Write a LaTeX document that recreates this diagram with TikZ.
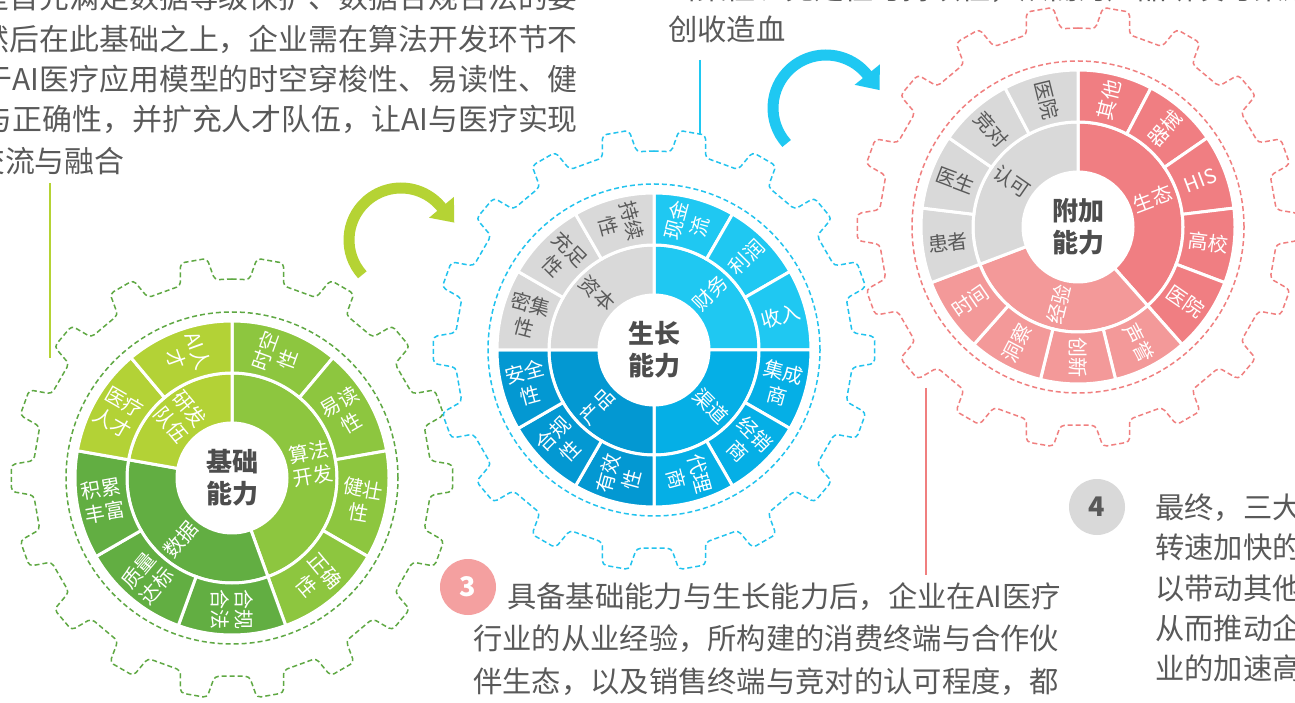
\documentclass[tikz,border=0pt]{standalone}
\usepackage{fontspec}
\setmainfont{Noto Sans CJK SC}
\usetikzlibrary{arrows.meta}

\definecolor{inktext}{HTML}{595959}
\definecolor{hubgray}{HTML}{4D4D4D}
\definecolor{grayc}{HTML}{D9D9D9}
\definecolor{gAlg}{HTML}{8DC63F}
\definecolor{gData}{HTML}{62AE42}
\definecolor{gTeam}{HTML}{B3D236}
\definecolor{gRim}{HTML}{5FA843}
\definecolor{bFin}{HTML}{1FC8F2}
\definecolor{bChan}{HTML}{05AFE6}
\definecolor{bProd}{HTML}{0398D2}
\definecolor{bRim}{HTML}{22C3EE}
\definecolor{rEco}{HTML}{F07E82}
\definecolor{rExp}{HTML}{F39999}
\definecolor{rRim}{HTML}{F07F7F}
\definecolor{dotpink}{HTML}{F4A0A0}
\definecolor{pinGreen}{HTML}{B5D334}

\tikzset{
  gearline/.style={dash pattern=on 5pt off 3pt, line width=1.5pt, rounded corners=4pt},
  seglabel/.style={align=center, inner sep=0pt, font=\fontsize{20}{24}\selectfont},
  hubtext/.style={align=center, inner sep=0pt, text=hubgray, font=\bfseries\fontsize{26}{32}\selectfont},
  bodytext/.style={text=inktext, inner sep=0pt, font=\fontsize{29.3}{40}\selectfont},
  widetext/.style={bodytext, font=\fontsize{29.9}{40}\selectfont},
  turnarrow/.style={line width=11pt, -{Triangle[length=20pt,width=31pt]}},
  pinline/.style={line width=2pt},
  numdot/.style={circle, minimum size=56pt, inner sep=0pt, font=\bfseries\fontsize{27}{27}\selectfont},
}

\newcounter{segno}
% one wedge of a ring: r1, r2, from, to, fill, text colour, label
\newcommand{\ringseg}[7]{%
  \stepcounter{segno}%
  \pgfmathsetmacro\segmid{((#3)+(#4))/2}%
  \pgfmathsetmacro\segrot{ifthenelse(cos(\segmid)<-0.001,\segmid-180,\segmid)}%
  \pgfmathsetmacro\segrad{((#1)+(#2))/2}%
  \fill[#5, draw=white, line width=3pt] ({#3}:#1) arc[start angle={#3}, end angle={#4}, radius=#1]
    -- ({#4}:#2) arc[start angle={#4}, end angle={#3}, radius=#2] -- cycle;
  \node[seglabel, text=#6, rotate=\segrot] (seg\arabic{segno}) at (\segmid:\segrad) {#7};
}
% dashed gear outline and its inner circle
\newcommand{\gearrim}[1]{%
  \draw[gearline, #1] (90:199) \foreach \k in {0,...,17}{
    -- ({95+20*\k}:199) -- ({96.5+20*\k}:221) -- ({103.5+20*\k}:221) -- ({105+20*\k}:199)} -- (90:199);
  \draw[gearline, #1] (0,0) circle[radius=166];
}

\begin{document}
\begin{tikzpicture}[x=1pt, y=1pt]
  \useasboundingbox (0,0) rectangle (1295,702);
  \fill[white] (0,0) rectangle (1295,702);
  \clip (0,0) rectangle (1295,702);

  % basic ability
  \begin{scope}[shift={(232,224)}]
    \gearrim{gRim}
    \foreach \a/\b/\c/\l in {90/-70/gAlg/{算法\\开发}, -70/-190/gData/数据, 170/90/gTeam/{研发\\队伍}}
      {\ringseg{55}{105}{\a}{\b}{\c}{white}{\l}}
    \foreach \a/\b/\c/\l in {90/50/gAlg/{时空\\性}, 50/10/gAlg/{易读\\性}, 10/-30/gAlg/{健壮\\性},
        -30/-70/gAlg/{正确\\性}, -70/-110/gData/{合规\\合法}, -110/-150/gData/{质量\\达标},
        -150/-190/gData/{积累\\丰富}, 170/130/gTeam/{医疗\\人才}, 130/90/gTeam/{AI人\\才}}
      {\ringseg{105}{157}{\a}{\b}{\c}{white}{\l}}
    \node[hubtext] (hubA) at (0,0) {基础\\能力};
  \end{scope}

  % growth ability
  \begin{scope}[shift={(654,352)}]
    \gearrim{bRim}
    \foreach \a/\b/\c/\t/\l in {90/0/bFin/white/财务, 0/-90/bChan/white/渠道,
        -90/-180/bProd/white/产品, 180/90/grayc/inktext/资本}
      {\ringseg{55}{105}{\a}{\b}{\c}{\t}{\l}}
    \foreach \a/\b/\c/\t/\l in {90/60/bFin/white/{现金\\流}, 60/30/bFin/white/利润, 30/0/bFin/white/收入,
        0/-30/bChan/white/{集成\\商}, -30/-60/bChan/white/{经销\\商}, -60/-90/bChan/white/{代理\\商},
        -90/-120/bProd/white/{有效\\性}, -120/-150/bProd/white/{合规\\性}, -150/-180/bProd/white/{安全\\性},
        180/150/grayc/inktext/{密集\\性}, 150/120/grayc/inktext/{充足\\性}, 120/90/grayc/inktext/{持续\\性}}
      {\ringseg{105}{157}{\a}{\b}{\c}{\t}{\l}}
    \node[hubtext] (hubB) at (0,0) {生长\\能力};
  \end{scope}

  % extra ability
  \begin{scope}[shift={(1078,475)}]
    \gearrim{rRim}
    \foreach \a/\b/\c/\t/\l in {0/5/rEco/white/生态, 5/9/rExp/white/经验, 9/13/grayc/inktext/认可}
      {\ringseg{55}{105}{90-\a*360/13}{90-\b*360/13}{\c}{\t}{\l}}
    \foreach \k/\c/\t/\l in {0/rEco/white/其他, 1/rEco/white/器械, 2/rEco/white/HIS, 3/rEco/white/高校,
        4/rEco/white/医院, 5/rExp/white/声誉, 6/rExp/white/创新, 7/rExp/white/洞察, 8/rExp/white/时间,
        9/grayc/inktext/患者, 10/grayc/inktext/医生, 11/grayc/inktext/竞对, 12/grayc/inktext/医院}
      {\ringseg{105}{157}{90-\k*360/13}{90-(\k+1)*360/13}{\c}{\t}{\l}}
    \node[hubtext] (hubC) at (0,0) {附加\\能力};
  \end{scope}

  % turning arrows
  \coordinate (turnA) at (401,462);
  \coordinate (turnB) at (826,594);
  \draw[turnarrow, pinGreen] (turnA) ++(222:52) arc[start angle=222, end angle=40, radius=52] -- ++(-50:21);
  \draw[turnarrow, bFin] (turnB) ++(222:53) arc[start angle=222, end angle=39, radius=53] -- ++(-51:20);

  % texts
  \node[widetext, anchor=base east] (noteA1) at (578,693) {是首先满足数据等级保护、数据合规合法的要};
  \node[widetext, anchor=base east] (noteA2) at (578,651) {然后在此基础之上，企业需在算法开发环节不};
  \node[widetext, anchor=base east] (noteA3) at (578,611) {于AI医疗应用模型的时空穿梭性、易读性、健};
  \node[widetext, anchor=base east] (noteA4) at (578,571) {与正确性，并扩充人才队伍，让AI与医疗实现};
  \node[widetext, anchor=base west] (noteA5) at (-25,529) {交流与融合};

  \node[bodytext, anchor=base west] (noteB1) at (668,702) {密集性、充足性与持续性，从而为产品研发与渠道};
  \node[bodytext, anchor=base west] (noteB2) at (668,661) {创收造血};

  \node[numdot, fill=dotpink, text=white] (num3) at (468,115) {3};
  \node[bodytext, anchor=base west] (noteC1) at (507,95) {具备基础能力与生长能力后，企业在AI医疗};
  \node[bodytext, anchor=base west] (noteC2) at (473,53) {行业的从业经验，所构建的消费终端与合作伙};
  \node[bodytext, anchor=base west] (noteC3) at (473,10) {伴生态，以及销售终端与竞对的认可程度，都};

  \node[numdot, fill=grayc, text=inktext] (num4) at (1097,195) {4};
  \node[bodytext, anchor=base west] (noteD1) at (1155,184) {最终，三大};
  \node[bodytext, anchor=base west] (noteD2) at (1155,144) {转速加快的};
  \node[bodytext, anchor=base west] (noteD3) at (1155,103) {以带动其他};
  \node[bodytext, anchor=base west] (noteD4) at (1155,63) {从而推动企};
  \node[bodytext, anchor=base west] (noteD5) at (1155,23) {业的加速高};

  % pointer lines
  \coordinate (pinA) at (50,519);
  \coordinate (tipA) at (50,344);
  \coordinate (pinB) at (700,642);
  \coordinate (tipB) at (700,567);
  \coordinate (pinC) at (926,314);
  \coordinate (tipC) at (926,127);
  \draw[pinline, pinGreen] (pinA) -- (tipA);
  \draw[pinline, bFin] (pinB) -- (tipB);
  \draw[pinline, rRim] (pinC) -- (tipC);
\end{tikzpicture}
\end{document}
